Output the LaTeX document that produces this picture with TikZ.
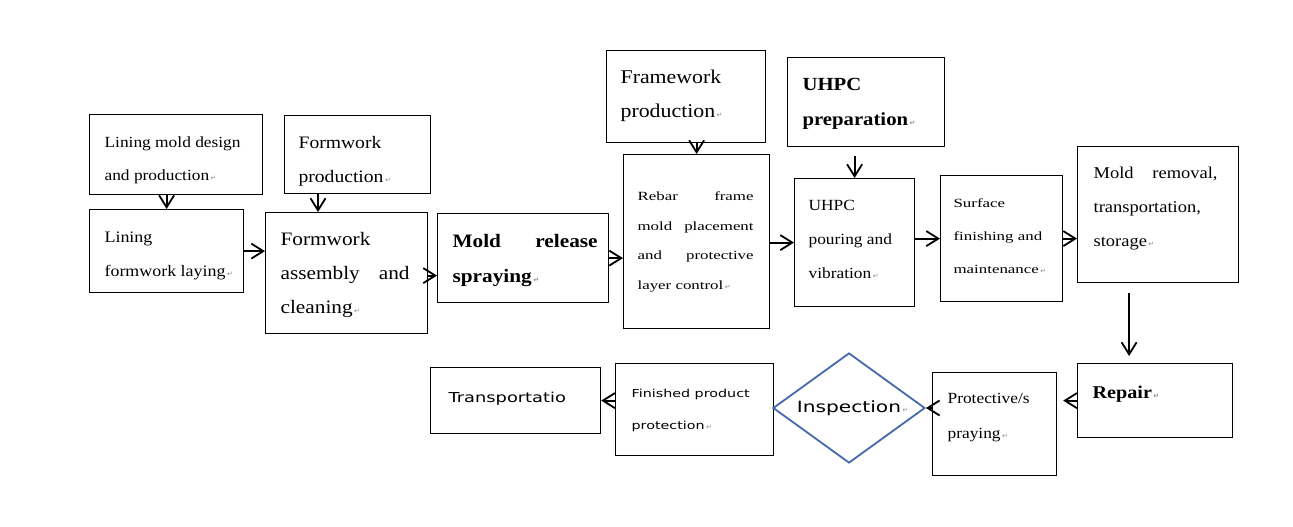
\documentclass[tikz,border=0pt]{standalone}
\usepackage{fontspec}
\setmainfont{Liberation Serif}[FakeStretch=1.12]
\newfontfamily\wide{Liberation Serif}[FakeStretch=1.35]
\newfontfamily\sanw{DejaVu Sans}[FakeStretch=1.3]
\newfontfamily\symf{DejaVu Sans}
\usetikzlibrary{arrows.meta,shapes.geometric}
\definecolor{dblue}{RGB}{70,104,172}
\newcommand\rt{\rlap{\kern1.5pt{\symf\fontsize{7pt}{7pt}\selectfont\color{black!45}↵}}}
\newcommand\fs[2]{\fontsize{#1pt}{#2pt}\selectfont}
\newcommand\bx[6]{\begin{minipage}[c][#2pt][t]{#1pt}\setlength\parindent{0pt}\leftskip=#3pt\rightskip=#4pt\vspace*{\dimexpr#5pt-20pt\relax}\rule{0pt}{20pt}#6\end{minipage}}
\tikzset{
  box/.style={draw, line width=1.2pt, inner sep=0pt, anchor=north west},
  arr/.style={-{Straight Barb[length=12pt,width=15pt]}, line width=1.8pt},
}
\begin{document}
\begin{tikzpicture}[x=1pt,y=-1pt]
\fill[white] (0,0) rectangle (1293,527);
\useasboundingbox (0,0) rectangle (1293,527);

\node[box] (lmd) at (89,114) {\bx{173}{80}{15}{2}{32.7}{\fs{15.5}{33.5}Lining mold design\\and production\rt}};
\node[box] (fp) at (284,115) {\bx{146}{78}{14}{2}{33}{\fs{17.5}{33.5}Formwork\\production\rt}};
\node[box] (lfl) at (89,209) {\bx{154}{83}{15}{2}{32.7}{\fs{16}{34}Lining\\formwork laying\rt}};
\node[box] (fac) at (265,212) {\bx{162}{121}{15}{18}{33}{\fs{19}{34}Formwork\\assembly\hfill and\\cleaning\rt}};
\node[box] (mrs) at (437,213) {\bx{171}{89}{15}{11}{33.7}{\bfseries\fs{19}{35}Mold\hfill release\\spraying\rt}};
\node[box] (fwp) at (606,50) {\bx{159}{92}{14}{2}{33.3}{\fs{19.5}{34}Framework\\production\rt}};
\node[box] (rebar) at (623,154) {\bx{146}{174}{14}{16}{46}{\wide\fs{12.5}{29.5}Rebar\hfill frame\\mold\hfill placement\\and\hfill protective\\layer control\rt}};
\node[box] (uhpcprep) at (787,57) {\bx{157}{89}{15}{2}{33}{\bfseries\fs{18.5}{35}UHPC\\preparation\rt}};
\node[box] (pour) at (794,178) {\bx{120}{128}{14}{2}{32}{\fs{15.5}{34}UHPC\\pouring and\\vibration\rt}};
\node[box] (surf) at (940,175) {\bx{122}{126}{13}{2}{31.7}{\wide\fs{12.5}{33.3}Surface\\finishing and\\maintenance\rt}};
\node[box] (moldrem) at (1077,146) {\bx{161}{136}{16}{21}{32.3}{\fs{16.5}{34}Mold\hfill removal,\\transportation,\\storage\rt}};
\node[box] (repair) at (1077,363) {\bx{155}{74}{15}{2}{35}{\bfseries\fs{18}{34}Repair\rt}};
\node[box] (prot) at (932,372) {\bx{124}{103}{15}{2}{31.3}{\fs{15.5}{35}Protective/s\\praying\rt}};
\node[box] (transp) at (430,367) {\bx{170}{66}{18}{2}{34.7}{\sanw\fs{13.7}{30}Transportatio}};
\node[box] (fin) at (615,363) {\bx{158}{92}{16}{2}{33.7}{\sanw\fs{11}{31.7}Finished product\\protection\rt}};
\node[diamond, draw=dblue, line width=1.8pt, minimum width=152pt, minimum height=110pt,
      inner sep=0pt, shape aspect=1.4, font=\sanw\fs{15.5}{18}] (insp) at (849,408) {Inspection\rt};

\draw[arr] (lfl.north |- lmd.south) -- (lfl.north);
\coordinate (fpa) at ([xshift=34pt]fp.south west);
\draw[arr] (fpa) -- (fpa |- fac.north);
\draw[arr] (lfl.east) -- (lfl.east -| fac.west);
\coordinate (faca) at ([yshift=-2.5pt]fac.east);
\draw[arr] (faca) -- (faca -| mrs.west);
\draw[arr] (mrs.east) -- (mrs.east -| rebar.west);
\draw[arr] (rebar.north |- fwp.south) -- (rebar.north);
\draw[arr] (pour.west -| rebar.east) -- (pour.west);
\draw[arr, shorten <=9pt] (pour.north |- uhpcprep.south) -- (pour.north);
\draw[arr] (surf.west -| pour.east) -- (surf.west);
\draw[arr] (surf.east) -- (surf.east -| moldrem.west);
\coordinate (mra) at ([xshift=-29pt]moldrem.south);
\draw[arr, shorten <=10pt, shorten >=7pt] (mra) -- (mra |- repair.north);
\draw[arr, shorten >=6pt] (repair.west) -- (repair.west -| prot.east);
\draw[arr] (prot.west |- insp.east) -- (insp.east);
\draw[arr] (fin.west |- transp.east) -- (transp.east);
\end{tikzpicture}
\end{document}
